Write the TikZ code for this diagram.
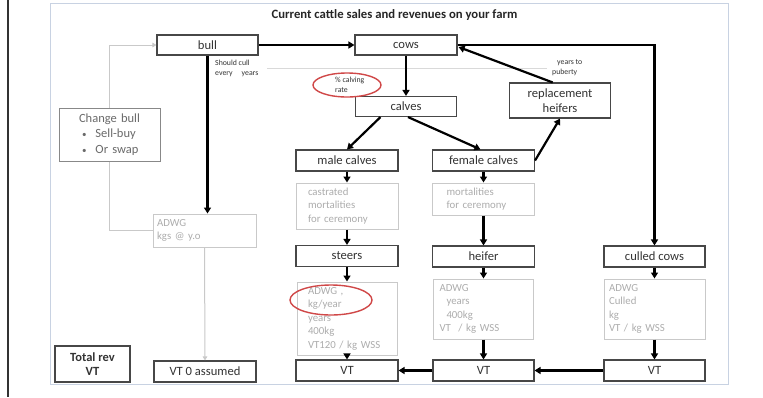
\documentclass[tikz,border=0pt]{standalone}
\usepackage{fontspec}
\setmainfont{Carlito}
\usetikzlibrary{arrows.meta,calc}

\definecolor{boxline}{HTML}{474747}
\definecolor{boxtext}{HTML}{333333}
\definecolor{fadeline}{HTML}{C9C9C9}
\definecolor{fadetext}{HTML}{ADADAD}
\definecolor{framecol}{HTML}{C8D2E2}
\definecolor{ringred}{HTML}{D04848}
\definecolor{midgray}{HTML}{6A6A6A}

\begin{document}
\begin{tikzpicture}[x=1pt,y=-1pt,
  box/.style={draw=boxline, line width=1.1pt, fill=white, text=boxtext,
    font=\fontsize{12.6}{14}\selectfont, inner sep=0pt, minimum height=21pt},
  fadebox/.style={draw=fadeline, line width=1pt, text=fadetext,
    font=\fontsize{10.8}{13.5}\selectfont, align=left, inner ysep=0pt},
  flow/.style={line width=2.2pt, draw=black, -{Triangle[length=6pt,width=7pt]}},
  hint/.style={line width=1pt, draw=fadeline},
  hinttip/.style={-{Triangle[length=4pt,width=4.5pt]}},
  tiny/.style={font=\fontsize{7.8}{10}\selectfont, text=boxtext, align=left, inner sep=0pt},
  ring/.style={draw=ringred, line width=1.4pt}]

% page and outer frame
\useasboundingbox (0,0) rectangle (763,397);
\fill[white] (0,0) rectangle (763,397);
\draw[line width=2pt, draw=black!80] (8,0) -- (8,397);
\draw[framecol, line width=1pt] (50,3) rectangle (728,384);

\node[font=\bfseries\fontsize{12.7}{14}\selectfont, text=black!85] (title) at (394.5,15)
  {Current cattle sales and revenues on your farm};

% main boxes
\node[box, minimum width=101pt, minimum height=20pt] (bull) at (207.5,45) {bull};
\node[box, minimum width=102pt, minimum height=20pt] (cows) at (406,45) {cows};
\node[box, minimum width=101pt, minimum height=20pt] (calves) at (406,106.5) {calves};
\node[box, minimum width=101pt, minimum height=35pt, align=center,
  font=\fontsize{12.6}{15}\selectfont] (replheif) at (560,100.5) {replacement\\heifers};
\node[box, minimum width=102pt] (male) at (347,160.5) {male calves};
\node[box, minimum width=102pt] (female) at (483.5,160.5) {female calves};
\node[box, minimum width=102pt] (steers) at (347,256) {steers};
\node[box, minimum width=102pt] (heifer) at (483.5,256.5) {heifer};
\node[box, minimum width=101pt] (culled) at (654.5,256.5) {culled cows};
\node[box, minimum width=102pt] (vtS) at (347,370.5) {VT};
\node[box, minimum width=101pt] (vtH) at (483.5,370.5) {VT};
\node[box, minimum width=101pt] (vtC) at (654.5,370.5) {VT};
\node[box, minimum width=102pt] (vt0) at (205,371.5) {VT 0 assumed};
\node[box, minimum width=75pt, minimum height=36pt, align=center,
  font=\bfseries\fontsize{12.5}{14}\selectfont] (total) at (92.5,364) {Total rev\\VT};

% faint detail boxes
\node[fadebox, text width=78pt, inner xsep=12pt, minimum height=46pt] (castr) at (347,206)
  {castrated\\mortalities\\for ceremony};
\node[fadebox, text width=74pt, inner xsep=14pt, minimum height=32pt] (mortF) at (483.5,199)
  {mortalities\\for ceremony};
\node[fadebox, text width=78pt, inner xsep=11pt, minimum height=73pt] (steersG) at (347,318.5)
  {ADWG ,\\kg/year\\years\\400kg\\VT120 / kg WSS};
\node[fadebox, text width=88pt, inner xsep=6pt, minimum height=60pt] (heiferG) at (483.5,309)
  {ADWG\\\hspace*{7pt}years\\\hspace*{7pt}400kg\\VT\hspace{4pt} / kg WSS};
\node[fadebox, text width=91pt, inner xsep=5pt, minimum height=60pt] (culledG) at (654.5,309)
  {ADWG\\Culled\\kg\\VT / kg WSS};
\node[fadebox, text width=95pt, inner xsep=4pt, minimum height=33pt] (bullG) at (204.5,230.5)
  {ADWG\\kgs @ y.o};

% option box for the bull
\node[draw=midgray!80, line width=1pt, text=midgray, fill=white, align=left,
  text width=93pt, inner xsep=4pt, inner ysep=0pt, minimum height=53pt,
  font=\fontsize{12.5}{15.5}\selectfont] (change) at (109.5,134.5)
  {\makebox[93pt][c]{Change bull}\\
   \hspace*{19pt}{\small\textbullet}\hspace{9pt}Sell-buy\\
   \hspace*{19pt}{\small\textbullet}\hspace{9pt}Or swap};

% small notes
\node[tiny, anchor=north west] (cullnote) at (215,60) {Should cull\\every\hspace{9pt}years};
\node[tiny, anchor=north west] (calvnote) at (335,77) {\% calving\\rate};
\node[tiny, anchor=north west] (pubnote) at (552,59) {\hspace*{5pt}years to\\puberty};

% thin guide line under the herd row
\coordinate (guideL) at (267,68);
\coordinate (guideR) at (547,68);
\draw[hint, line width=0.8pt, draw=fadeline!70] (guideL) -- (guideR);

% herd flow
\draw[flow] (bull) -- (cows);
\draw[flow] (cows) -- (calves);
\draw[flow] (cows.east) -| (culled.north);
\draw[flow] (replheif.112) -- ($(cows.east)+(1,2)$);
\draw[flow] ($(calves.south west)!0.25!(calves.south east)$) -- (male.north);
\draw[flow] ($(calves.south)+(2,0)$) -- ($(female.north)+(-3,0)$);
\draw[flow] (female.east) -- (replheif.south);

% male line
\draw[flow] (male) -- (castr);
\draw[flow] (castr) -- (steers);
\draw[flow] (steers) -- (steersG);
\draw[flow] (steersG) -- (vtS);

% female line
\draw[flow] (female) -- (mortF);
\draw[flow] (mortF) -- (heifer);
\draw[flow] (heifer) -- (heiferG);
\draw[flow] (heiferG) -- (vtH);

% culled cows line
\draw[flow] (culled) -- (culledG);
\draw[flow] (culledG) -- (vtC);

% revenue totals
\draw[flow] (vtC) -- (vtH);
\draw[flow] (vtH) -- (vtS);

% bull line
\draw[flow] (bull.south) -- (bull.south |- bullG.north);
\draw[hint, hinttip] (bullG.south) -- (vt0.north);
\draw[hint, hinttip] (change.north) |- (bull.west);
\draw[hint] (change.south) |- (bullG.west);

% highlighted items
\draw[ring] (347,85) ellipse [x radius=34pt, y radius=12pt];
\draw[ring] (331,300) ellipse [x radius=41pt, y radius=15pt];
\end{tikzpicture}
\end{document}
